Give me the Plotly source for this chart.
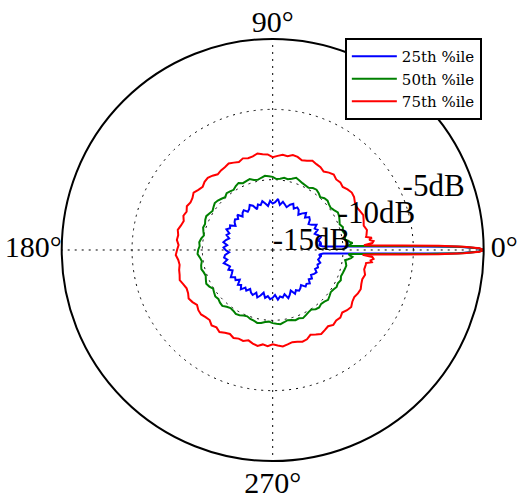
import plotly.graph_objects as go

# Angles (degrees): main-lobe detail near 0°, body every 3°, detail again up to 360°
lobe_pos_theta = [0, 0.5, 1, 1.5, 2, 2.5, 3, 4, 5, 6, 7, 8]
body_theta = list(range(9, 352, 3))
lobe_neg_theta = [352, 353, 354, 355, 356, 357, 357.5, 358, 358.5, 359, 359.5, 360]

# 25th percentile (dB)
p25_lobe_pos = [0, -0.4, -1.85, -5.5, -7.9, -9.3, -10.2, -11.4, -11.6, -11.7, -11.5, -11.6]
p25_body = [
    -11.55, -11.7, -11.45, -11.6, -11.8, -11.5, -11.65, -11.4, -11.7, -11.85,
    -11.6, -11.5, -11.75, -11.45, -11.65, -11.9, -11.6, -11.5, -11.7, -11.4,
    -11.55, -11.8, -11.65, -11.5, -11.75, -11.35, -11.6, -11.7, -11.5, -11.85,
    -11.65, -11.45, -11.7, -11.6, -11.9, -11.55, -11.4, -11.65, -11.75, -11.5,
    -11.6, -11.8, -11.45, -11.7, -11.55, -11.65, -11.85, -11.5, -11.6, -11.4,
    -11.7, -11.55, -11.8, -11.6, -11.45, -11.75, -11.5, -11.65, -11.9, -11.6,
    -11.5, -11.7, -11.4, -11.6, -11.75, -11.55, -11.8, -11.65, -11.45, -11.7,
    -11.6, -11.85, -11.5, -11.65, -11.4, -11.7, -11.55, -11.8, -11.6, -11.5,
    -11.75, -11.45, -11.65, -11.9, -11.55, -11.7, -11.5, -11.6, -11.8, -11.45,
    -11.65, -11.55, -11.75, -11.4, -11.6, -11.85, -11.5, -11.7, -11.55, -11.65,
    -11.8, -11.5, -11.6, -11.45, -11.7, -11.55, -11.75, -11.6, -11.5, -11.7,
    -11.55, -11.65, -11.5, -11.7, -11.6,
]
p25_lobe_neg = [-11.6, -11.5, -11.7, -11.6, -11.4, -10.2, -9.3, -7.9, -5.5, -1.85, -0.4, 0]

# 50th percentile (dB)
p50_lobe_pos = [0, -0.36, -1.6, -4.1, -6.8, -8.5, -9.6, -9.5, -9.3, -9.5, -9.6, -9.8]
p50_body = [
    -9.8, -9.7, -9.85, -9.75, -9.9, -9.8, -9.7, -9.65, -9.8, -9.9,
    -9.85, -9.75, -9.8, -9.95, -9.8, -9.7, -9.75, -9.9, -9.85, -9.8,
    -9.7, -9.6, -9.75, -9.85, -9.8, -9.9, -9.95, -9.8, -9.75, -9.7,
    -9.8, -9.9, -9.85, -9.7, -9.75, -9.8, -9.65, -9.75, -9.9, -9.85,
    -9.8, -9.95, -9.85, -9.75, -9.7, -9.8, -9.9, -9.8, -9.7, -9.75,
    -9.85, -9.8, -9.9, -10.0, -9.85, -9.75, -9.8, -9.7, -9.65, -9.8,
    -9.9, -9.8, -9.75, -9.85, -9.9, -9.8, -9.7, -9.8, -9.95, -9.85,
    -9.75, -9.8, -9.7, -9.65, -9.8, -9.9, -9.85, -9.75, -9.8, -9.9,
    -9.95, -9.85, -9.8, -9.7, -9.75, -9.85, -9.9, -9.8, -9.75, -9.7,
    -9.8, -9.9, -9.85, -9.75, -9.8, -9.7, -9.8, -9.9, -9.95, -9.8,
    -9.75, -9.85, -9.8, -9.7, -9.8, -9.9, -9.85, -9.75, -9.8, -9.7,
    -9.8, -9.75, -9.7, -9.65, -9.75,
]
p50_lobe_neg = [-9.8, -9.6, -9.4, -9.3, -9.5, -9.6, -8.5, -6.8, -4.1, -1.6, -0.36, 0]

# 75th percentile (dB)
p75_lobe_pos = [0, -0.3, -1.4, -3.2, -5.8, -7.7, -8.5, -7.9, -7.8, -8.1, -7.9, -8.3]
p75_body = [
    -8.25, -8.15, -8.3, -8.2, -8.1, -8.2, -8.3, -8.25, -8.1, -8.05,
    -8.15, -8.3, -8.2, -8.25, -8.1, -8.2, -8.35, -8.2, -8.15, -8.05,
    -8.2, -8.3, -8.15, -8.1, -8.25, -8.2, -8.3, -8.4, -8.2, -8.15,
    -8.05, -8.2, -8.25, -8.15, -8.3, -8.2, -8.1, -8.2, -8.25, -8.35,
    -8.2, -8.1, -8.15, -8.3, -8.2, -8.05, -8.2, -8.25, -8.15, -8.3,
    -8.2, -8.35, -8.25, -8.1, -8.2, -8.15, -8.3, -8.2, -8.1, -8.25,
    -8.3, -8.2, -8.15, -8.05, -8.2, -8.3, -8.25, -8.1, -8.2, -8.35,
    -8.2, -8.15, -8.25, -8.3, -8.1, -8.2, -8.05, -8.2, -8.3, -8.15,
    -8.25, -8.2, -8.35, -8.2, -8.1, -8.25, -8.15, -8.3, -8.2, -8.1,
    -8.2, -8.3, -8.25, -8.15, -8.2, -8.4, -8.25, -8.1, -8.2, -8.3,
    -8.15, -8.25, -8.2, -8.35, -8.2, -8.1, -8.25, -8.3, -8.2, -8.15,
    -8.25, -8.3, -8.2, -8.35, -8.3,
]
p75_lobe_neg = [-8.3, -7.9, -8.0, -7.8, -7.9, -8.6, -7.7, -5.8, -3.2, -1.4, -0.3, 0]

series_names = ["25th %ile", "50th %ile", "75th %ile"]
series_colors = ["#0000ff", "#008000", "#ff0000"]

radial_ticks = [-15, -10, -5, 0]
radial_labels = ["-15dB", "-10dB", "-5dB"]
angular_ticks = [0, 90, 180, 270]
angular_labels = ["0°", "90°", "180°", "270°"]

theta_all = lobe_pos_theta + body_theta + lobe_neg_theta
series_values = [
    p25_lobe_pos + p25_body + p25_lobe_neg,
    p50_lobe_pos + p50_body + p50_lobe_neg,
    p75_lobe_pos + p75_body + p75_lobe_neg,
]

fig = go.Figure()
for name, color, vals in zip(series_names, series_colors, series_values):
    fig.add_trace(go.Scatterpolar(
        r=vals, theta=theta_all, mode="lines", name=name,
        line=dict(color=color, width=2),
    ))

# radial tick labels, anchored with their baseline at the tick radius (22.5°)
fig.add_trace(go.Scatterpolar(
    r=radial_ticks[:3], theta=[22.5] * 3, mode="text",
    text=["<span style='font-size:31px'>%s</span>" % t for t in radial_labels],
    textposition="top right", showlegend=False, hoverinfo="skip",
    textfont=dict(family="Liberation Serif", size=1, color="black"),
))

# angular tick labels, placed just outside the outer circle
fig.add_trace(go.Scatterpolar(
    r=[radial_ticks[-1]] * 4, theta=angular_ticks, mode="markers+text",
    text=angular_labels,
    textposition=["middle right", "top center", "middle left", "bottom center"],
    marker=dict(size=[9.6, 0, 0, 13.6], opacity=0),
    cliponaxis=False, showlegend=False, hoverinfo="skip",
    textfont=dict(family="Liberation Serif", size=30, color="black"),
))

fig.update_layout(
    width=517, height=499,
    margin=dict(l=0, r=0, t=0, b=0),
    paper_bgcolor="white",
    showlegend=True,
    legend=dict(
        x=0.667, y=0.924, xanchor="left", yanchor="top",
        bgcolor="white", bordercolor="black", borderwidth=2,
        font=dict(family="DejaVu Serif", size=15, color="black"),
        itemwidth=45,
    ),
    polar=dict(
        domain=dict(x=[0.1193, 0.9356], y=[0.0762, 0.9218]),
        bgcolor="white",
        radialaxis=dict(
            range=[-15, 0], tickvals=radial_ticks, showticklabels=False,
            showline=False, ticks="", angle=22.5,
            showgrid=True, gridcolor="black", gridwidth=1, griddash="2px,5px",
        ),
        angularaxis=dict(
            rotation=0, direction="counterclockwise",
            tickvals=angular_ticks, showticklabels=False, ticks="",
            showline=True, linecolor="black", linewidth=2,
            showgrid=True, gridcolor="black", gridwidth=1, griddash="2px,5px",
        ),
    ),
)

fig.write_html("out.html")
